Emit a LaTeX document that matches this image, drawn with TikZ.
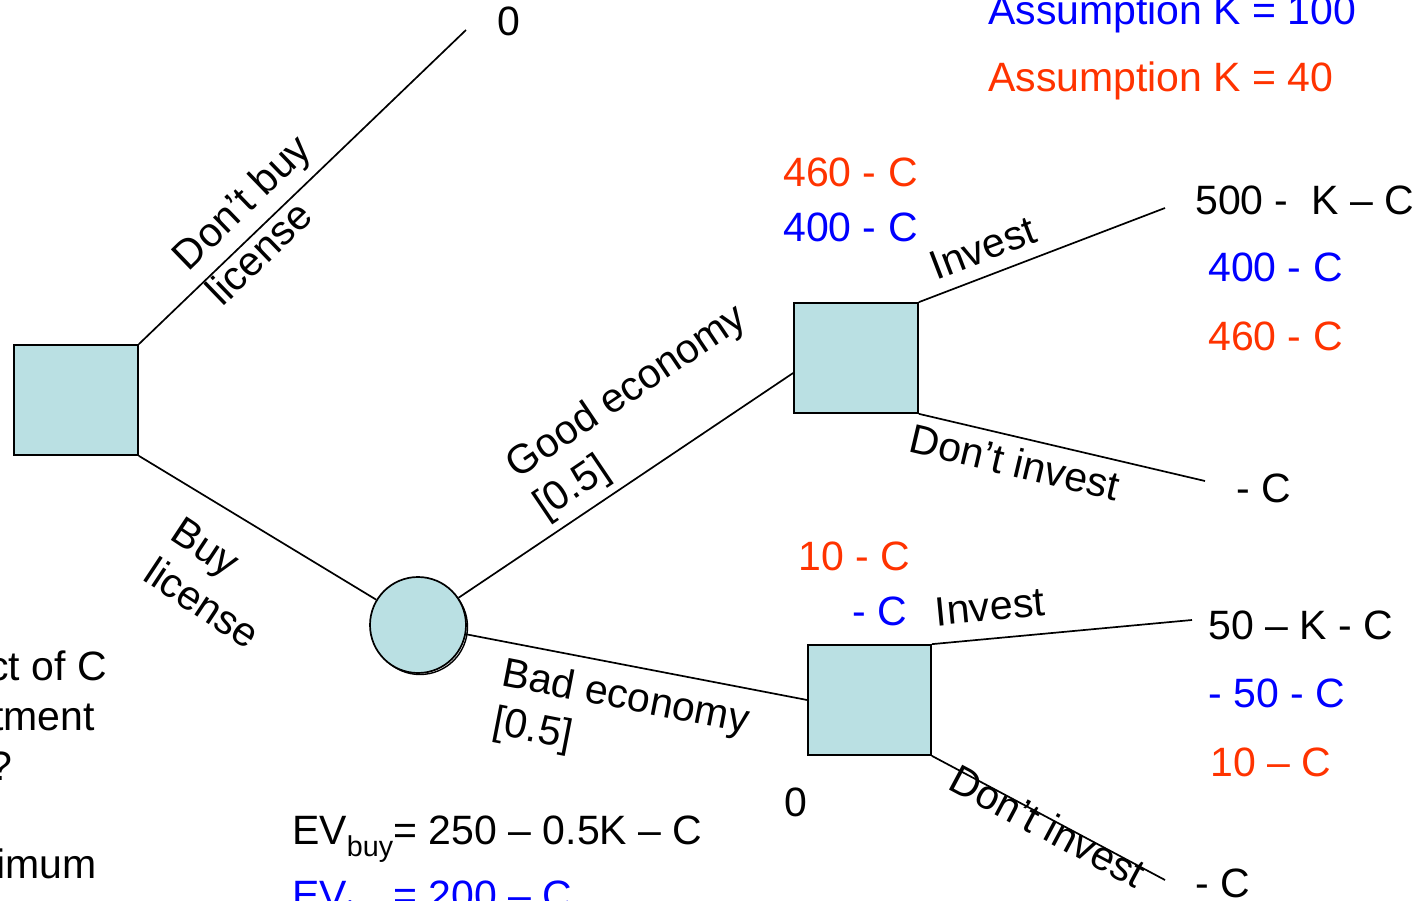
\documentclass[tikz,border=0pt]{standalone}
\usepackage{fontspec}
\setmainfont{Liberation Sans}
\definecolor{nodefill}{RGB}{186,224,227}
\definecolor{kblue}{RGB}{0,0,255}
\definecolor{kred}{RGB}{255,51,0}
\begin{document}
\begin{tikzpicture}[x=1pt,y=-1pt,
  every node/.style={font=\fontsize{41}{49}\selectfont, inner sep=0pt},
  dec/.style={draw=black, line width=1.7pt, fill=nodefill, rectangle, minimum width=124pt, minimum height=110pt},
  chance/.style={draw=black, line width=1.7pt, fill=nodefill, circle, minimum size=96pt},
  edge/.style={line width=1.7pt},
  lab/.style={align=left},
  val/.style={anchor=base west},
  vb/.style={val, text=kblue},
  vr/.style={val, text=kred}]
\useasboundingbox (0,0) rectangle (1419,901);
\clip (0,0) rectangle (1419,901);

% decision and chance nodes
\node[dec] (sq1) at (76,400) {};
\draw[line width=1.4pt] (420,627) circle (47.5);
\node[chance] (c1) at (418,625) {};
\node[dec] (sq2) at (856,358) {};
\node[dec, minimum width=123pt] (sq3) at (869.5,700) {};

% free ends
\coordinate (e0) at (466,30);
\coordinate (e1) at (1165,208);
\coordinate (e2) at (1205,481);
\coordinate (e3) at (1192,620);
\coordinate (e4) at (1165,880);

% connectors
\draw[edge] (sq1.north east) -- (e0);
\draw[edge] (sq1.south east) -- (c1);
\draw[edge] (c1) -- ([yshift=-15pt]sq2.west);
\draw[edge] (c1) -- (sq3.west);
\draw[edge] (sq2.north east) -- (e1);
\draw[edge] (sq2.south east) -- (e2);
\draw[edge] (sq3.north east) -- (e3);
\draw[edge] (sq3.south east) -- (e4);

% branch labels
\node[lab, rotate=44] (l0) at (258,219) {Don’t buy\\license};
\node[lab, rotate=-33.5] (l1) at (216,583) {Buy\\license};
\node[lab, rotate=34] (l2) at (641,413) {Good economy\\{[0.5]}};
\node[lab, rotate=-11] (l3) at (621,723) {Bad economy\\{[0.5]}};
\node[rotate=21] (l4) at (983,248) {Invest};
\node[rotate=-13.3] (l5) at (1015,462) {Don’t invest};
\node[rotate=5.5] (l6) at (990,607) {Invest};
\node[rotate=-28] (l7) at (1048,826) {Don’t invest};

% payoffs
\node[val] (z0) at (497,36) {0};
\node[vb] (a1) at (988,25) {Assumption K = 100};
\node[vr] (a2) at (988,92) {Assumption K = 40};

\node[vr] (g1) at (783,187) {460 - C};
\node[vb] (g2) at (783,242) {400 - C};
\node[val] (p1) at (1195,215) {500 -\ \ K – C};
\node[vb] (p2) at (1208,282) {400 - C};
\node[vr] (p3) at (1208,351) {460 - C};
\node[val] (p4) at (1236,502) {- C};

\node[vr] (b1) at (798,570) {10 - C};
\node[vb] (b2) at (852,625) {- C};
\node[val] (q1) at (1208,639) {50 – K - C};
\node[vb] (q2) at (1208,707) {- 50 - C};
\node[vr] (q3) at (1210,776) {10 – C};
\node[val] (z1) at (784,816) {0};
\node[val] (q4) at (1195,897) {- C};

\node[val] (ev1) at (292,844) {EV\textsubscript{buy}= 250 – 0.5K – C};
\node[vb] (ev2) at (292,909) {EV\textsubscript{buy}= 200 – C};

% cut-off text at left edge
\node[anchor=base east] (t1) at (107,680) {ct of C};
\node[anchor=base east] (t2) at (95,730) {tment};
\node[anchor=base east] (t3) at (13,780) {?};
\node[anchor=base east] (t4) at (97,878) {imum};
\end{tikzpicture}
\end{document}
